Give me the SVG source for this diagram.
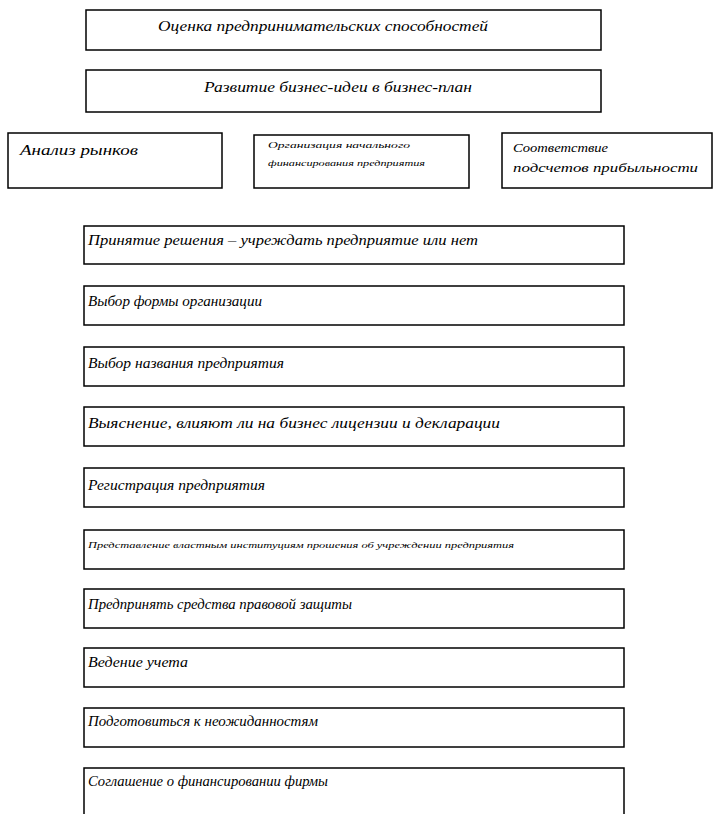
<svg xmlns="http://www.w3.org/2000/svg" width="715" height="814" viewBox="0 0 715 814">
<style>
.box{fill:#fff;stroke:#000;stroke-width:1.5}
text{font-family:"Liberation Serif","DejaVu Serif",serif;font-style:italic;font-size:14px;fill:#000}
.s{font-size:9px}
.m{font-size:13px}
</style>
<rect x="0" y="0" width="715" height="814" fill="#fff"/>
<g id="n1"><rect class="box" x="86" y="10" width="515" height="40"/><text x="158" y="31" textLength="330" lengthAdjust="spacingAndGlyphs">Оценка предпринимательских способностей</text></g>
<g id="n2"><rect class="box" x="86" y="70" width="515" height="42"/><text x="204" y="92" textLength="268" lengthAdjust="spacingAndGlyphs">Развитие бизнес-идеи в бизнес-план</text></g>
<g id="n3"><rect class="box" x="8" y="133" width="214" height="55"/><text x="20" y="155" textLength="118" lengthAdjust="spacingAndGlyphs">Анализ рынков</text></g>
<g id="n4"><rect class="box" x="254" y="135" width="215" height="53"/><text class="s" x="268" y="148" textLength="142" lengthAdjust="spacingAndGlyphs">Организация начального</text><text class="s" x="268" y="166" textLength="157" lengthAdjust="spacingAndGlyphs">финансирования предприятия</text></g>
<g id="n5"><rect class="box" x="502" y="133" width="210" height="55"/><text class="m" x="513" y="152" textLength="95" lengthAdjust="spacingAndGlyphs">Соответствие</text><text class="m" x="513" y="172" textLength="185" lengthAdjust="spacingAndGlyphs">подсчетов прибыльности</text></g>
<g id="n6"><rect class="box" x="84" y="226" width="540" height="38"/><text x="88" y="245" textLength="390" lengthAdjust="spacingAndGlyphs">Принятие решения – учреждать предприятие или нет</text></g>
<g id="n7"><rect class="box" x="84" y="286" width="540" height="39"/><text x="88" y="306" textLength="174" lengthAdjust="spacingAndGlyphs">Выбор формы организации</text></g>
<g id="n8"><rect class="box" x="84" y="347" width="540" height="39"/><text x="88" y="368" textLength="196" lengthAdjust="spacingAndGlyphs">Выбор названия предприятия</text></g>
<g id="n9"><rect class="box" x="84" y="407" width="540" height="39"/><text x="88" y="428" textLength="412" lengthAdjust="spacingAndGlyphs">Выяснение, влияют ли на бизнес лицензии и декларации</text></g>
<g id="n10"><rect class="box" x="84" y="468" width="540" height="39"/><text x="88" y="490" textLength="177" lengthAdjust="spacingAndGlyphs">Регистрация предприятия</text></g>
<g id="n11"><rect class="box" x="84" y="530" width="540" height="39"/><text class="s" x="88" y="548" textLength="426" lengthAdjust="spacingAndGlyphs">Представление властным институциям прошения об учреждении предприятия</text></g>
<g id="n12"><rect class="box" x="84" y="589" width="540" height="39"/><text x="88" y="609" textLength="264" lengthAdjust="spacingAndGlyphs">Предпринять средства правовой защиты</text></g>
<g id="n13"><rect class="box" x="84" y="648" width="540" height="39"/><text x="88" y="667" textLength="100" lengthAdjust="spacingAndGlyphs">Ведение учета</text></g>
<g id="n14"><rect class="box" x="84" y="708" width="540" height="39"/><text x="88" y="726" textLength="230" lengthAdjust="spacingAndGlyphs">Подготовиться к неожиданностям</text></g>
<g id="n15"><rect class="box" x="84" y="768" width="540" height="52"/><text x="88" y="786" textLength="240" lengthAdjust="spacingAndGlyphs">Соглашение о финансировании фирмы</text></g>
<g id="connectors"></g>
</svg>
